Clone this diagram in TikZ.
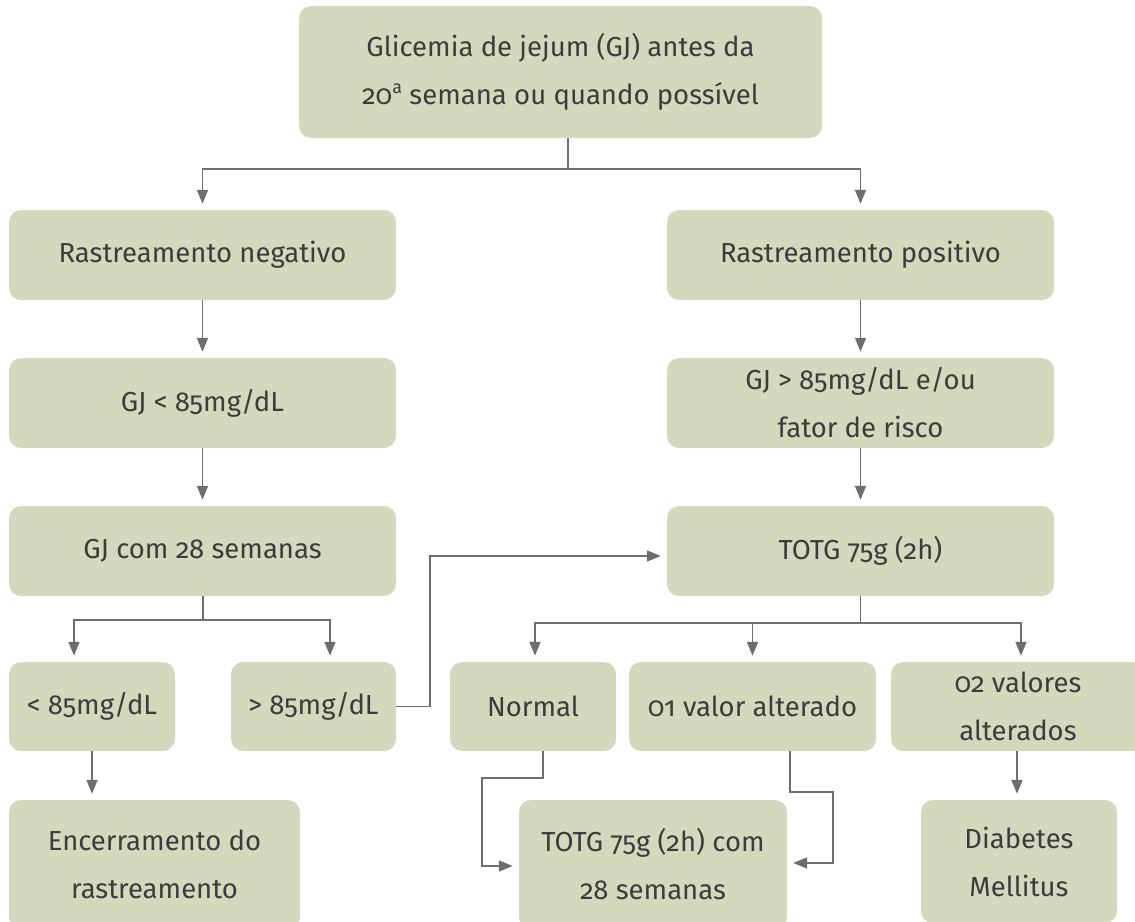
\documentclass[tikz,border=0pt]{standalone}
\usepackage{fontspec}
\setmainfont{Fira Sans}[Numbers=OldStyle]
\usetikzlibrary{arrows.meta,calc}
\definecolor{boxfill}{RGB}{213,216,189}
\definecolor{linegray}{RGB}{110,110,110}
\definecolor{textgray}{RGB}{60,60,60}
\newcommand{\ordsup}[1]{\raisebox{0.75ex}{\fontsize{18}{18}\selectfont #1}}
\tikzset{
  box/.style={rectangle,rounded corners=12pt,fill=boxfill,draw=none,align=center,
    text=textgray,font=\fontsize{27.5}{48}\selectfont,inner sep=0pt},
  arr/.style={draw=linegray,line width=1.7pt,-{Triangle[length=14pt,width=11pt]},shorten >=6pt},
  ln/.style={draw=linegray,line width=1.7pt}
}
\begin{document}
\begin{tikzpicture}[x=1pt,y=-1pt]
\useasboundingbox (0,0) rectangle (1135,921);
% boxes
\node[box,minimum width=523pt,minimum height=132pt] (top) at (560.5,72) {Glicemia de jejum (GJ) antes da\\20\ordsup{a} semana ou quando possível};
\node[box,minimum width=387pt,minimum height=90pt] (neg) at (202.5,255) {Rastreamento negativo};
\node[box,minimum width=387pt,minimum height=90pt] (pos) at (860.5,255) {Rastreamento positivo};
\node[box,minimum width=387pt,minimum height=90pt] (gj1) at (202.5,403) {GJ < 85mg/dL};
\node[box,minimum width=387pt,minimum height=90pt] (gjp) at (860.5,403) {GJ > 85mg/dL e/ou\\fator de risco};
\node[box,minimum width=387pt,minimum height=90pt] (gj28) at (202.5,551) {GJ com 28 semanas};
\node[box,minimum width=387pt,minimum height=90pt] (totg) at (860.5,551) {TOTG 75g (2h)};
\node[box,minimum width=166pt,minimum height=89pt] (lt) at (92,706.5) {< 85mg/dL};
\node[box,minimum width=165pt,minimum height=89pt] (gt) at (313.5,706.5) {> 85mg/dL};
\node[box,minimum width=166pt,minimum height=89pt] (normal) at (533,706.5) {Normal};
\node[box,minimum width=247pt,minimum height=89pt] (one) at (752.5,706.5) {01 valor alterado};
\node[box,minimum width=254pt,minimum height=89pt] (two) at (1018,706.5) {02 valores\\alterados};
\node[box,minimum width=291pt,minimum height=129pt] (enc) at (154.5,864.5) {Encerramento do\\rastreamento};
\node[box,minimum width=268pt,minimum height=129pt] (t28) at (653,864.5) {TOTG 75g (2h) com\\28 semanas};
\node[box,minimum width=196pt,minimum height=123pt] (diab) at (1019,861.5) {Diabetes\\Mellitus};
% coordinates
\coordinate (j1) at (568,169);
\coordinate (j2) at (203,620);
\coordinate (a1) at (74,0);
\coordinate (a2) at (330,0);
\coordinate (k1) at (430,556);
\coordinate (j3) at (860.5,623);
\coordinate (b1) at (535,0);
\coordinate (b3) at (1021,0);
\coordinate (n1) at (543,778);
\coordinate (n2) at (482,866);
\coordinate (o1) at (790,792);
\coordinate (o2) at (833,863);
\coordinate (d1) at (1017,0);
\coordinate (e1) at (92,0);
% connectors
\draw[ln] (j1 |- top.south) -- (j1);
\draw[arr] (j1) -| (neg.north);
\draw[arr] (j1) -| (pos.north);
\draw[arr] (neg.south) -- (gj1.north);
\draw[arr] (gj1.south) -- (gj28.north);
\draw[arr] (pos.south) -- (gjp.north);
\draw[arr] (gjp.south) -- (totg.north);
\draw[ln] (j2 |- gj28.south) -- (j2);
\draw[arr] (j2) -| (a1 |- lt.north);
\draw[arr] (j2) -| (a2 |- gt.north);
\draw[arr] (gt.east) -| (k1) -- (k1 -| totg.west);
\draw[ln] (totg.south) -- (j3);
\draw[arr] (j3) -| (b1 |- normal.north);
\draw[arr] (j3) -| (one.north);
\draw[arr] (j3) -| (b3 |- two.north);
\draw[arr] (n1 |- normal.south) -- (n1) -| (n2) -- (n2 -| t28.west);
\draw[arr] (o1 |- one.south) -- (o1) -| (o2) -- (o2 -| t28.east);
\draw[arr] (d1 |- two.south) -- (d1 |- diab.north);
\draw[arr] (lt.south) -- (e1 |- enc.north);
\end{tikzpicture}
\end{document}
